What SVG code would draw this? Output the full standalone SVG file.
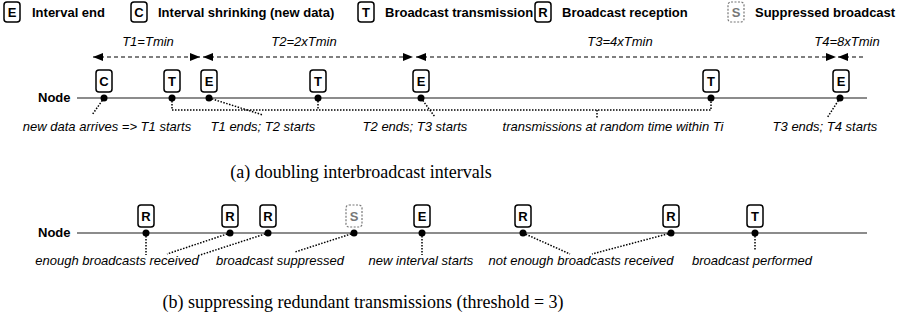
<svg xmlns="http://www.w3.org/2000/svg" width="904" height="325" viewBox="0 0 904 325">
<defs>
<marker id="ah" viewBox="0 0 10 8" refX="10" refY="4" markerWidth="10" markerHeight="8" markerUnits="userSpaceOnUse" orient="auto-start-reverse">
<path d="M0,0 L10,4 L0,8 Z" fill="#000"/>
</marker>
</defs>
<style>
.bx{fill:#fff;stroke:#000;stroke-width:1.5}
.sx{fill:#fff;stroke:#777;stroke-width:1.2;stroke-dasharray:2,1.5}
.bl{font-family:"Liberation Sans",Arial,sans-serif;font-weight:bold;font-size:13px;fill:#000;text-anchor:middle}
.sl{font-family:"Liberation Sans",Arial,sans-serif;font-weight:bold;font-size:13px;fill:#777;text-anchor:middle}
.lg{font-family:"Liberation Sans",Arial,sans-serif;font-weight:bold;font-size:13px;fill:#000}
.it{font-family:"Liberation Sans",Arial,sans-serif;font-style:italic;font-size:13px;fill:#000;text-anchor:middle}
.cap{font-family:"Liberation Serif","Times New Roman",serif;font-size:18px;fill:#000;text-anchor:middle}
.tl{stroke:#666;stroke-width:1.5;fill:none}
.dot{fill:#000}
.dc{stroke:#000;stroke-width:1.5;stroke-dasharray:1.5,1.5;fill:none}
.da{stroke:#000;stroke-width:1.2;stroke-dasharray:4,3;fill:none}
</style>

<g id="legend">
<rect class="bx" x="4" y="2" width="16" height="20" rx="3"/><text class="bl" x="12" y="17">E</text>
<text class="lg" x="32" y="17">Interval end</text>
<rect class="bx" x="131" y="2" width="16" height="20" rx="3"/><text class="bl" x="139" y="17">C</text>
<text class="lg" x="158" y="17">Interval shrinking (new data)</text>
<rect class="bx" x="358" y="2" width="16" height="20" rx="3"/><text class="bl" x="366" y="17">T</text>
<text class="lg" x="385" y="17">Broadcast transmission</text>
<rect class="bx" x="535" y="2" width="16" height="20" rx="3"/><text class="bl" x="543" y="17">R</text>
<text class="lg" x="562" y="17">Broadcast reception</text>
<rect class="sx" x="728" y="2" width="16" height="20" rx="3"/><text class="sl" x="736" y="17">S</text>
<text class="lg" x="755" y="17">Suppressed broadcast</text>
</g>

<!-- Part (a) -->
<g id="timeline-a">
<text class="lg" x="38" y="102">Node</text>
<line class="tl" x1="77" y1="98" x2="867" y2="98"/>
</g>

<g id="intervals">
<line class="da" x1="93" y1="57" x2="200" y2="57" marker-start="url(#ah)" marker-end="url(#ah)"/>
<line class="da" x1="203" y1="57" x2="413" y2="57" marker-start="url(#ah)" marker-end="url(#ah)"/>
<line class="da" x1="416" y1="57" x2="836" y2="57" marker-start="url(#ah)" marker-end="url(#ah)"/>
<line class="da" x1="838" y1="57" x2="866" y2="57" marker-start="url(#ah)"/>
<text class="it" x="148" y="46">T1=Tmin</text>
<text class="it" x="304" y="46">T2=2xTmin</text>
<text class="it" x="620" y="46">T3=4xTmin</text>
<text class="it" x="847" y="46">T4=8xTmin</text>
</g>

<g id="connectors-a">
<path class="dc" d="M104,98 L92,115"/>
<path class="dc" d="M172,98 V110 H711 V98"/>
<path class="dc" d="M318,98 V110"/>
<path class="dc" d="M597,110 V118"/>
<path class="dc" d="M209,98 L263,115"/>
<path class="dc" d="M421,98 L435,117"/>
<path class="dc" d="M840,98 L827,118"/>
</g>

<g id="a-c1"><rect class="bx" x="96" y="70" width="16" height="22" rx="3"/><text class="bl" x="104" y="86">C</text><circle class="dot" cx="104" cy="98" r="3.5"/></g>
<g id="a-t1"><rect class="bx" x="164" y="70" width="16" height="22" rx="3"/><text class="bl" x="172" y="86">T</text><circle class="dot" cx="172" cy="98" r="3.5"/></g>
<g id="a-e1"><rect class="bx" x="201" y="70" width="16" height="22" rx="3"/><text class="bl" x="209" y="86">E</text><circle class="dot" cx="209" cy="98" r="3.5"/></g>
<g id="a-t2"><rect class="bx" x="310" y="70" width="16" height="22" rx="3"/><text class="bl" x="318" y="86">T</text><circle class="dot" cx="318" cy="98" r="3.5"/></g>
<g id="a-e2"><rect class="bx" x="413" y="70" width="16" height="22" rx="3"/><text class="bl" x="421" y="86">E</text><circle class="dot" cx="421" cy="98" r="3.5"/></g>
<g id="a-t3"><rect class="bx" x="703" y="70" width="16" height="22" rx="3"/><text class="bl" x="711" y="86">T</text><circle class="dot" cx="711" cy="98" r="3.5"/></g>
<g id="a-e3"><rect class="bx" x="833" y="70" width="16" height="22" rx="3"/><text class="bl" x="841" y="86">E</text><circle class="dot" cx="840" cy="98" r="3.5"/></g>

<g id="labels-a">
<text class="it" x="107" y="131">new data arrives =&gt; T1 starts</text>
<text class="it" x="263" y="131">T1 ends; T2 starts</text>
<text class="it" x="415" y="131">T2 ends; T3 starts</text>
<text class="it" x="613" y="131">transmissions at random time within Ti</text>
<text class="it" x="825" y="131">T3 ends; T4 starts</text>
</g>

<text class="cap" x="361" y="178">(a) doubling interbroadcast intervals</text>

<!-- Part (b) -->
<g id="timeline-b">
<text class="lg" x="38" y="237">Node</text>
<line class="tl" x1="77" y1="233" x2="867" y2="233"/>
</g>

<g id="connectors-b">
<path class="dc" d="M146,233 V255"/>
<path class="dc" d="M230,233 L167,254"/>
<path class="dc" d="M268,233 L197,256"/>
<path class="dc" d="M354,233 L295,252"/>
<path class="dc" d="M422,233 V255"/>
<path class="dc" d="M523,233 L570,254"/>
<path class="dc" d="M671,233 L592,254"/>
<path class="dc" d="M755,233 V250"/>
</g>

<g id="b-r1"><rect class="bx" x="138" y="205" width="16" height="22" rx="3"/><text class="bl" x="146" y="221">R</text><circle class="dot" cx="146" cy="233" r="3.5"/></g>
<g id="b-r2"><rect class="bx" x="222" y="205" width="16" height="22" rx="3"/><text class="bl" x="230" y="221">R</text><circle class="dot" cx="230" cy="233" r="3.5"/></g>
<g id="b-r3"><rect class="bx" x="260" y="205" width="16" height="22" rx="3"/><text class="bl" x="268" y="221">R</text><circle class="dot" cx="268" cy="233" r="3.5"/></g>
<g id="b-s"><rect class="sx" x="346" y="205" width="16" height="22" rx="3"/><text class="sl" x="354" y="221">S</text><circle class="dot" cx="354" cy="233" r="3.5"/></g>
<g id="b-e"><rect class="bx" x="414" y="205" width="16" height="22" rx="3"/><text class="bl" x="422" y="221">E</text><circle class="dot" cx="422" cy="233" r="3.5"/></g>
<g id="b-r4"><rect class="bx" x="515" y="205" width="16" height="22" rx="3"/><text class="bl" x="523" y="221">R</text><circle class="dot" cx="523" cy="233" r="3.5"/></g>
<g id="b-r5"><rect class="bx" x="663" y="205" width="16" height="22" rx="3"/><text class="bl" x="671" y="221">R</text><circle class="dot" cx="671" cy="233" r="3.5"/></g>
<g id="b-t"><rect class="bx" x="747" y="205" width="16" height="22" rx="3"/><text class="bl" x="755" y="221">T</text><circle class="dot" cx="755" cy="233" r="3.5"/></g>

<g id="labels-b">
<text class="it" x="117" y="265">enough broadcasts received</text>
<text class="it" x="280" y="265">broadcast suppressed</text>
<text class="it" x="421" y="265">new interval starts</text>
<text class="it" x="581" y="265">not enough broadcasts received</text>
<text class="it" x="752" y="265">broadcast performed</text>
</g>

<text class="cap" x="363" y="308">(b) suppressing redundant transmissions (threshold = 3)</text>
</svg>
